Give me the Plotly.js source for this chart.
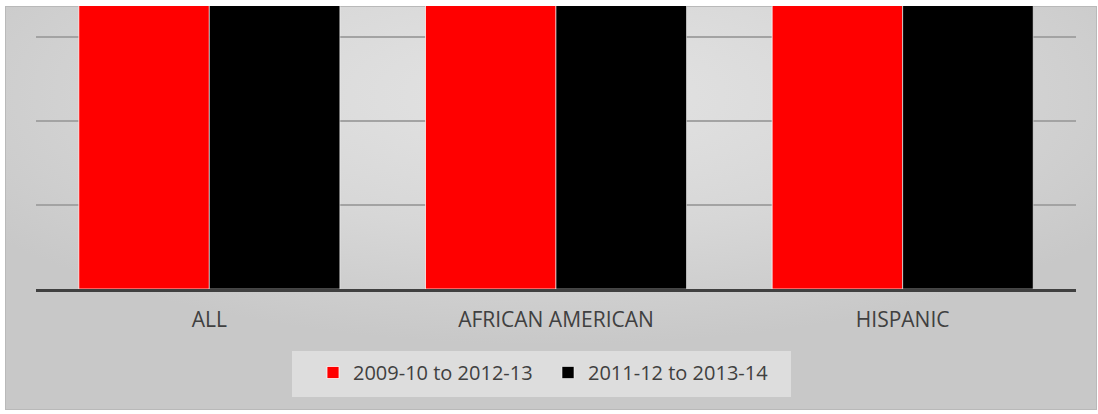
<!DOCTYPE html>
<html>
<head>
<meta charset="utf-8">
<script src="https://cdn.plot.ly/plotly-3.0.1.min.js"></script>
<style>html,body{margin:0;padding:0;background:#fff;}#chart{width:1098px;height:414px;}</style>
</head>
<body>
<div id="chart"></div>
<script>
// Data (bars extend beyond the visible axis range in the reference; values are estimates)
const categories = ["ALL", "AFRICAN AMERICAN", "HISPANIC"];
const seriesNames = ["2009-10 to 2012-13", "2011-12 to 2013-14"];
const series2009 = [4.5, 4.5, 4.5];
const series2011 = [4.5, 4.5, 4.5];
const seriesColors = ["#ff0000", "#000000"];

const bgSvg = '<svg xmlns="http://www.w3.org/2000/svg" width="1092" height="404" viewBox="0 0 1092 404" preserveAspectRatio="none">' +
  '<defs><radialGradient id="g" cx="50%" cy="22%" r="62%">' +
  '<stop offset="0" stop-color="#e4e4e4"/><stop offset="0.55" stop-color="#d7d7d7"/><stop offset="1" stop-color="#c8c8c8"/>' +
  '</radialGradient></defs>' +
  '<rect x="0.5" y="0.5" width="1091" height="403" fill="url(#g)" stroke="#b9b9b9" stroke-width="1"/></svg>';
const bgUrl = 'data:image/svg+xml;base64,' + btoa(bgSvg);

const traces = [
  {type: 'bar', name: seriesNames[0], x: categories, y: series2009,
   marker: {color: seriesColors[0], line: {color: 'rgba(255,255,255,0.75)', width: 1}}},
  {type: 'bar', name: seriesNames[1], x: categories, y: series2011,
   marker: {color: seriesColors[1], line: {color: 'rgba(255,255,255,0.55)', width: 1}}}
];

const L = 36, R = 22, T = 6, B = 125;
const plotW = 1098 - L - R, plotH = 414 - T - B;
const px = v => (v - L) / plotW;          // pixel x -> paper x
const py = v => (414 - B - v) / plotH;    // pixel y -> paper y

const layout = {
  width: 1098, height: 414,
  margin: {l: L, r: R, t: T, b: B, pad: 0},
  paper_bgcolor: '#ffffff',
  plot_bgcolor: 'rgba(0,0,0,0)',
  barmode: 'group',
  bargap: 0.247,
  bargroupgap: 0,
  font: {family: '"Open Sans", sans-serif', color: '#404040'},
  xaxis: {
    showgrid: false, zeroline: false,
    showline: true, linecolor: '#404040', linewidth: 3,
    ticks: '', ticklabelstandoff: 10,
    tickfont: {size: 21, color: '#404040'},
    fixedrange: true
  },
  yaxis: {
    range: [0, plotH / 84], dtick: 1, tick0: 0,
    showgrid: true, gridcolor: '#a3a3a3', gridwidth: 1.5,
    zeroline: false, showticklabels: false, ticks: '',
    fixedrange: true
  },
  showlegend: true,
  legend: {
    orientation: 'h', x: px(313), xanchor: 'left',
    y: py(353), yanchor: 'top',
    bgcolor: 'rgba(0,0,0,0)', borderwidth: 0,
    font: {size: 20, color: '#404040'},
    itemwidth: 30, entrywidth: 190, traceorder: 'normal'
  },
  shapes: [{
    type: 'rect', xref: 'paper', yref: 'paper', layer: 'below',
    x0: px(292), x1: px(791), y0: py(351), y1: py(397),
    fillcolor: '#dddddd', line: {width: 0}
  }],
  images: [{
    source: bgUrl, xref: 'paper', yref: 'paper',
    x: px(5), y: 1, sizex: 1092 / plotW, sizey: 404 / plotH,
    xanchor: 'left', yanchor: 'top', sizing: 'stretch', layer: 'below'
  }]
};

Plotly.newPlot('chart', traces, layout, {displayModeBar: false, staticPlot: true});
</script>
</body>
</html>
